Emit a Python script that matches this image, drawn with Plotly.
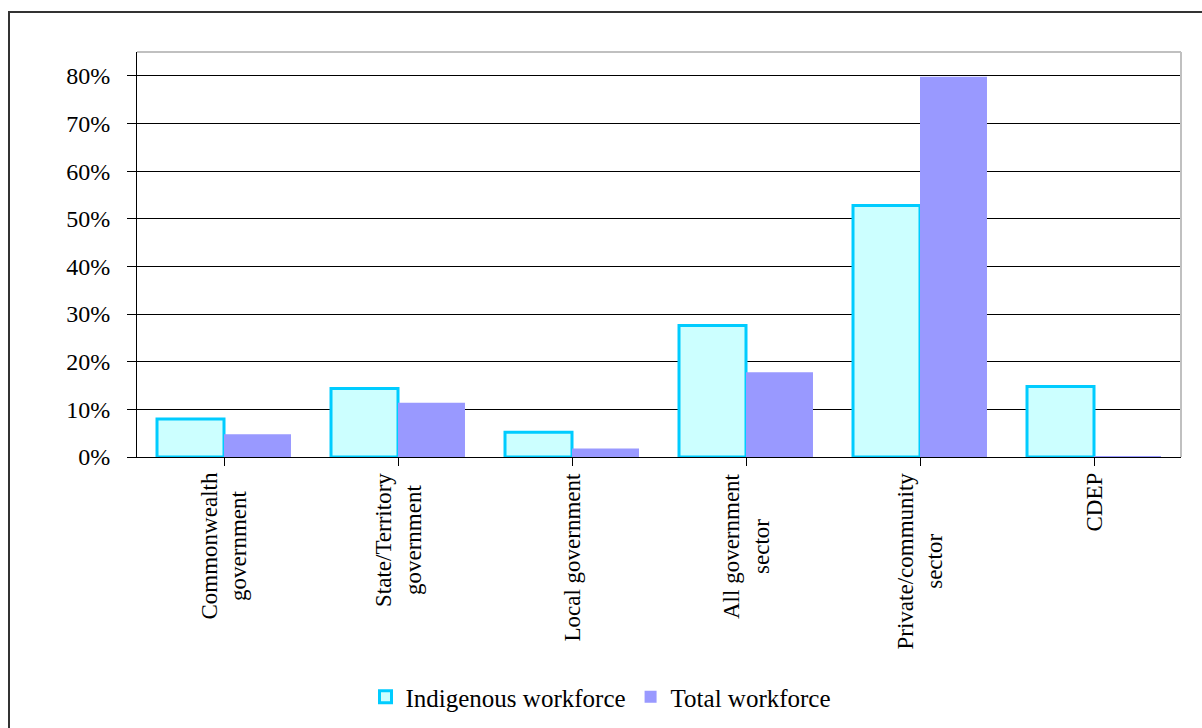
import plotly.graph_objects as go

categories = ["Commonwealth<br>government", "State/Territory<br>government", "Local government",
              "All government<br>sector", "Private/community<br>sector", "CDEP"]
indigenous = [8.0, 14.4, 5.2, 27.6, 52.8, 14.8]
total = [4.8, 11.4, 1.8, 17.8, 79.8, 0.2]
y_ticks = [0, 10, 20, 30, 40, 50, 60, 70, 80]

FONT = "Liberation Serif"

fig = go.Figure()
fig.add_trace(go.Bar(x=list(range(len(categories))), y=indigenous, name="Indigenous workforce",
                     marker=dict(color="#CCFFFF", line=dict(color="#00CCFF", width=3))))
fig.add_trace(go.Bar(x=list(range(len(categories))), y=total, name="Total workforce",
                     marker=dict(color="#9999FF", line=dict(color="#9999FF", width=0))))

for i, lab in enumerate(categories):
    fig.add_annotation(x=i, y=0, xref="x", yref="paper", text=lab, textangle=-90,
                       showarrow=False, yanchor="top", xanchor="center", align="center",
                       yshift=-14, font=dict(family=FONT, size=23, color="black"))

fig.update_layout(
    width=1202, height=728,
    margin=dict(l=137, r=21, t=52, b=271),
    paper_bgcolor="white", plot_bgcolor="white",
    barmode="group", bargap=0.23, bargroupgap=0,
    font=dict(family=FONT, size=23, color="black"),
    showlegend=True,
    legend=dict(orientation="h", xref="container", yref="container",
                x=601 / 1202, xanchor="center", y=1 - 697 / 728, yanchor="middle",
                font=dict(family=FONT, size=25, color="black"), traceorder="normal",
                itemwidth=30),
    xaxis=dict(range=[-0.5, len(categories) - 0.5], tickmode="array",
               tickvals=list(range(len(categories))), showticklabels=False,
               tickson="boundaries", ticks="outside", ticklen=8, tickcolor="black",
               showline=True, linecolor="black", linewidth=1, showgrid=False, zeroline=False),
    yaxis=dict(range=[0, 85], tickmode="array", tickvals=y_ticks,
               ticktext=[f"{v}%" for v in y_ticks], ticks="outside", ticklen=9,
               tickcolor="black", showline=True, linecolor="black", linewidth=1,
               showgrid=True, gridcolor="black", gridwidth=1, zeroline=False,
               ticklabelstandoff=12,
               tickfont=dict(family=FONT, size=24, color="black")),
    shapes=[
        dict(type="line", xref="paper", yref="paper", x0=0, x1=1, y0=1, y1=1,
             line=dict(color="#C0C0C0", width=2)),
        dict(type="line", xref="paper", yref="paper", x0=1, x1=1, y0=0, y1=1,
             line=dict(color="#C0C0C0", width=2)),
        dict(type="rect", xref="paper", yref="paper",
             x0=(9 - 137) / 1044, x1=(1210 - 137) / 1044,
             y0=(457 - 740) / 405, y1=(457 - 12) / 405,
             line=dict(color="#333333", width=2), fillcolor="rgba(0,0,0,0)", layer="below"),
    ],
)

fig.write_html("out.html")
